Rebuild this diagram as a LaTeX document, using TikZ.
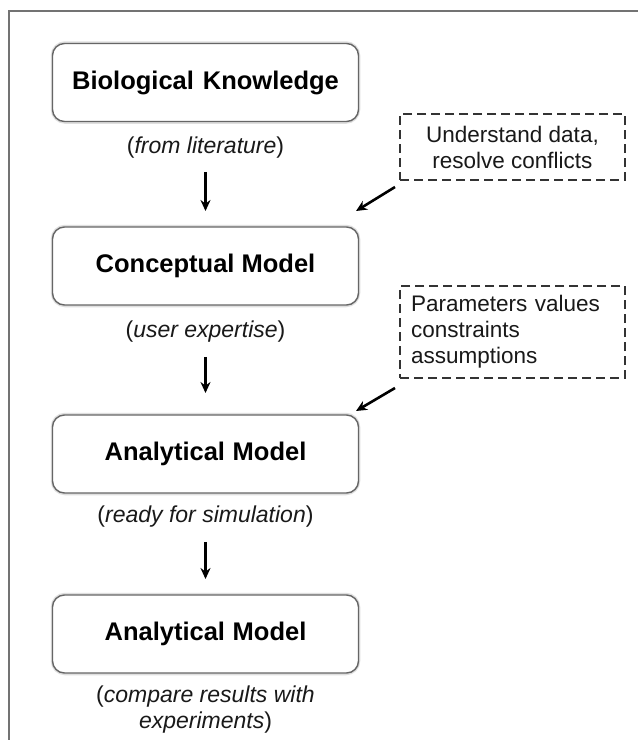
\documentclass[tikz,border=0pt]{standalone}
\usepackage{fontspec}
\setmainfont{Liberation Sans}
\usetikzlibrary{arrows.meta}
\begin{document}
\begin{tikzpicture}[x=1pt,y=-1pt,
  stagebox/.style={rounded corners=12pt, minimum width=306pt, minimum height=78pt,
    fill=white, draw=gray!80!black, line width=1.4pt, font=\fontsize{25.5}{29}\selectfont\bfseries,
    inner sep=0pt},
  stagelabel/.style={font=\fontsize{23}{26}\selectfont, align=center, inner sep=0pt, text=black!90},
  notebox/.style={draw=black!80, line width=1.4pt, dash pattern=on 9pt off 5pt,
    minimum width=225pt, font=\fontsize{22.5}{26}\selectfont, text=black!90, inner sep=0pt},
  arr/.style={-{Stealth[length=11pt,width=10pt]}, line width=2.6pt, black},
  frame/.style={draw=gray!90!black, line width=2.6pt}
]
\useasboundingbox (0,0) rectangle (638,740);
\fill[white] (0,0) rectangle (638,740);
\draw[frame] (9,740) -- (9,11) -- (640,11);

% shadow glow for boxes
\foreach \cy in {82.5,266,454,634}{
  \draw[gray!25, line width=4.5pt, rounded corners=12pt] (53,\cy-39) rectangle (358,\cy+39);
}

\node[stagebox] (b1) at (205.5,82.5) {Biological\hspace{0.35em}Knowledge};
\node[stagelabel] (l1) at (205.5,148) {(\textit{from literature})};
\node[stagebox] (b2) at (205.5,266) {Conceptual Model};
\node[stagelabel] (l2) at (205.5,332) {(\textit{user expertise})};
\node[stagebox] (b3) at (205.5,454) {Analytical\hspace{0.3em}Model};
\node[stagelabel] (l3) at (205.5,517) {(\textit{ready for simulation})};
\node[stagebox] (b4) at (205.5,634) {Analytical\hspace{0.3em}Model};
\node[stagelabel] (l4) at (205.5,710) {(\textit{compare results with}\\\textit{experiments})};

\node[notebox, minimum height=66pt, align=center] (n1) at (512.5,147) {Understand data,\\resolve conflicts};
\node[notebox, minimum height=92pt, align=left, text width=203pt] (n2) at (512.5,332) {Parameters values\\constraints\\assumptions};

\draw[arr] (l1.south) ++(0,13) coordinate (a1s) -- (a1s |- 0,211) coordinate (a1e);
\draw[arr] (l2.south) ++(0,14) coordinate (a2s) -- (a2s |- 0,393) coordinate (a2e);
\draw[arr] (l3.south) ++(0,14) coordinate (a3s) -- (a3s |- 0,579) coordinate (a3e);

\coordinate (d1s) at (395,187);
\coordinate (d1e) at (356,211);
\coordinate (d2s) at (395,388);
\coordinate (d2e) at (356,411);
\draw[arr] (d1s) -- (d1e);
\draw[arr] (d2s) -- (d2e);
\end{tikzpicture}
\end{document}
